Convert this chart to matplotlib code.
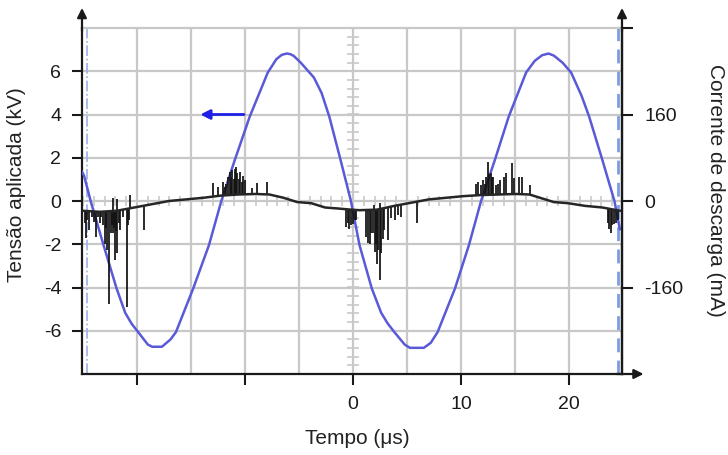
import numpy as np
import matplotlib
matplotlib.use('Agg')
import matplotlib.pyplot as plt

plt.rcParams['font.family'] = ['Liberation Sans', 'DejaVu Sans']
plt.rcParams['axes.unicode_minus'] = False

# ---------------- data ----------------
# applied voltage (kV) vs time (us)
volt_t = [-25.1, -24.9, -24.3, -23.1, -21.9, -21.1, -20.5, -19.9, -19.0, -18.6, -17.7, -16.9, -16.4,
          -14.8, -13.35, -12.2, -10.95, -9.57, -7.9, -7.1, -6.6, -6.13, -5.8, -5.5, -4.85, -3.63,
          -2.92, -2.2, -1.16, -0.2, 0.6, 1.73, 2.6, 3.2, 3.82, 4.78, 5.26, 6.55, 7.19, 7.83, 9.44,
          10.72, 11.85, 13.13, 14.41, 16.02, 16.82, 17.5, 18.1, 18.6, 19.39, 20.19, 21.16, 21.86,
          23.08, 24.2, 24.7]
volt_kv = [1.35, 1.16, 0.0, -2.05, -4.04, -5.17, -5.68, -6.06, -6.64, -6.74, -6.74, -6.4, -6.06,
           -4.04, -2.05, 0.0, 1.9, 3.9, 5.94, 6.56, 6.76, 6.82, 6.79, 6.71, 6.4, 5.71,
           5.0, 3.9, 1.9, 0.0, -2.05, -4.04, -5.17, -5.66, -6.06, -6.64, -6.79, -6.79, -6.56, -6.06, -4.04,
           -2.05, 0.0, 1.9, 3.9, 5.94, 6.48, 6.74, 6.82, 6.72, 6.4, 5.94, 4.86, 3.9,
           1.9, 0.0, -1.3]

# discharge current baseline (mA)
base_t = [-25.07, -23.47, -21.86, -20.26, -18.65, -17.05, -15.44, -13.84, -12.23, -10.63, -9.02,
          -7.74, -6.45, -5.17, -3.88, -2.6, -1.32, -0.19, 0.61, 2.22, 3.82, 5.43, 7.03, 8.64,
          10.24, 11.85, 13.45, 15.06, 16.34, 17.3, 18.59, 19.87, 21.48, 23.08, 24.69]
base_ma = [-18, -20, -18, -12, -6, 0, 3, 6, 10, 12, 13, 12, 6, -2, -4, -12, -14, -16, -17, -16,
           -9, -3, 3, 6, 9, 11, 12, 13, 12, 6, -2, -4, -9, -12, -18]

# discharge current spikes (time us, tip mA)
spike_t = [-24.85, -24.75, -24.6, -24.43, -24.2, -24.0, -23.79, -23.6, -23.45, -23.3, -23.15,
           -22.99, -22.85, -22.76, -22.6, -22.45, -22.35, -22.25, -22.1, -22.02, -21.95, -21.86,
           -21.7, -21.54, -21.3, -20.96, -20.85, -20.74, -19.4, -22.2, -21.9, -20.7,
           -12.94, -12.55, -12.07, -11.9, -11.75, -11.6, -11.43, -11.3, -11.2, -11.05, -10.95,
           -10.8, -10.72, -10.6, -10.47, -10.3, -10.15, -9.98, -9.35, -8.9, -8.0,
           -0.61, -0.5, -0.35, -0.2, -0.03, 0.15, 0.29, 1.22, 1.4, 1.57, 1.7, 1.83, 2.0, 2.1,
           2.22, 2.3, 2.5, 2.6, 2.75, 2.86, 3.2, 3.5, 3.9, 4.2, 4.43, 5.94, 2.45, 1.9,
           11.36, 11.6, 11.85, 12.0, 12.17, 12.3, 12.5, 12.6, 12.74, 12.85, 12.97, 13.2, 13.45,
           13.6, 13.93, 14.2, 14.7, 14.9, 15.4, 15.6, 16.4,
           23.6, 23.69, 23.85, 24.0, 24.17, 24.35, 24.49]
spike_ma = [-40, -68, -35, -54, -30, -38, -66, -30, -40, -29, -45,
            -79, -50, -91, -190, -60, -45, -60, -50, -110, -55, -97,
            -40, -54, -30, -196, -45, -36, -54, 5, 3, 11,
            33, 26, 35, 25, 32, 44, 54, 45, 57, 40, 60,
            63, 51, 40, 53, 35, 46, 39, 24, 33, 35,
            -48, -40, -51, -45, -42, -35, -36, -66, -78, -79, -60, -60, -95, -80,
            -116, -90, -147, -97, -70, -54, -73, -32, -36, -26, -29, -41, -3, -8,
            32, 35, 30, 38, 32, 45, 72, 50, 51, 45, 44, 30, 32,
            38, 45, 51, 70, 42, 45, 44, 29,
            -40, -52, -60, -45, -42, -40, -36]

x_ticks = [-20, -10, 0, 10, 20]
x_ticklabels = ['', '', '0', '10', '20']
yl_ticks = [-6, -4, -2, 0, 2, 4, 6]
yl_ticklabels = ['-6', '-4', '-2', '0', '2', '4', '6']
yr_ticks = [-160, 0, 160, 320]
yr_ticklabels = ['-160', '0', '160', '']

xlabel = 'Tempo (\u03bcs)'
ylabel_left = 'Tensão aplicada (kV)'
ylabel_right = 'Corrente de descarga (mA)'

# ---------------- figure ----------------
W, H = 728, 455
fig = plt.figure(figsize=(W / 100, H / 100), dpi=100)
ax = fig.add_axes([82 / W, 1 - 374 / H, 540 / W, 346 / H])
ax.set_xlim(-25.1, 24.9)
ax.set_ylim(-8, 8)

grid_c = '#c8c8c8'
spine_c = '#1a1a1a'

# grid (oscilloscope graticule)
for gxv in np.arange(-20, 21, 5):
    ax.axvline(gxv, color=grid_c, lw=1.6, zorder=0)
for gyv in np.arange(-6, 8, 2):
    ax.axhline(gyv, color=grid_c, lw=1.6, zorder=0)

# oscilloscope centre graticule marks
gy = np.arange(-7.6, 7.9, 0.4)
ax.hlines(gy, -0.55, 0.55, color=grid_c, lw=1.2, zorder=1)
gx = np.arange(-25, 25, 1)
ax.vlines(gx, -0.22, 0.22, color=grid_c, lw=1.2, zorder=1)

# spines
for s in ['left', 'bottom', 'right']:
    ax.spines[s].set_color(spine_c)
    ax.spines[s].set_linewidth(1.6)
ax.spines['top'].set_color(grid_c)
ax.spines['top'].set_linewidth(1.6)

# vertical cursor lines
ax.axvline(-24.65, color='#9ab0e6', lw=1.2, ls='-.', zorder=2)
ax.axvline(24.55, color='#7d9de0', lw=2.0, ls=(0, (5, 3)), zorder=2)

# voltage curve
ax.plot(volt_t, volt_kv, color='#5a5ad8', lw=1.8, zorder=4, solid_joinstyle='round')

# ticks left / bottom
ax.set_xticks(x_ticks)
ax.set_xticklabels(x_ticklabels)
ax.set_yticks(yl_ticks)
ax.set_yticklabels(yl_ticklabels)
ax.tick_params(axis='y', which='major', direction='out', length=7, width=1.5,
               pad=8, labelsize=14, colors=spine_c)
ax.tick_params(axis='x', which='major', direction='out', length=8, width=1.5,
               pad=8, labelsize=14, colors=spine_c)

# right axis for current
axr = ax.twinx()
axr.set_ylim(-320, 320)
for s in ['left', 'bottom', 'top']:
    axr.spines[s].set_visible(False)
axr.spines['right'].set_color(spine_c)
axr.spines['right'].set_linewidth(1.6)
axr.set_yticks(yr_ticks)
axr.set_yticklabels(yr_ticklabels)
axr.tick_params(axis='y', direction='out', length=8, width=1.5, pad=8,
                labelsize=14, colors=spine_c)

base_at_spike = np.interp(spike_t, base_t, base_ma)
axr.vlines(spike_t, base_at_spike, spike_ma, color='#111111', lw=1.25, zorder=3)
axr.plot(base_t, base_ma, color='#262626', lw=1.8, zorder=3)

# axis arrows
arrow_kw = dict(arrowstyle='-|>', color=spine_c, lw=1.6, mutation_scale=14,
                shrinkA=0, shrinkB=0)
ax.annotate('', xy=(0, 1.058), xytext=(0, 0.99), xycoords='axes fraction',
            arrowprops=arrow_kw, annotation_clip=False)
ax.annotate('', xy=(1, 1.058), xytext=(1, 0.99), xycoords='axes fraction',
            arrowprops=arrow_kw, annotation_clip=False)
ax.annotate('', xy=(1.04, 0), xytext=(0.99, 0), xycoords='axes fraction',
            arrowprops=arrow_kw, annotation_clip=False)

# blue arrow pointing to voltage axis
ax.annotate('', xy=(-14.15, 4.0), xytext=(-10.1, 4.0),
            arrowprops=dict(arrowstyle='-|>', color='#1f1fe6', lw=2.0,
                            mutation_scale=14, shrinkA=0, shrinkB=0), zorder=5)

# axis labels
txt_c = '#222222'
fig.text(357 / W, 1 - 438 / H, xlabel, ha='center', va='center', fontsize=15, color=txt_c)
fig.text(17 / W, 1 - 185 / H, ylabel_left, ha='center', va='center', rotation=90,
         fontsize=15, color=txt_c)
fig.text(716 / W, 1 - 190 / H, ylabel_right, ha='center', va='center', rotation=-90,
         fontsize=15, color=txt_c)

fig.savefig('out.png', dpi=100)
